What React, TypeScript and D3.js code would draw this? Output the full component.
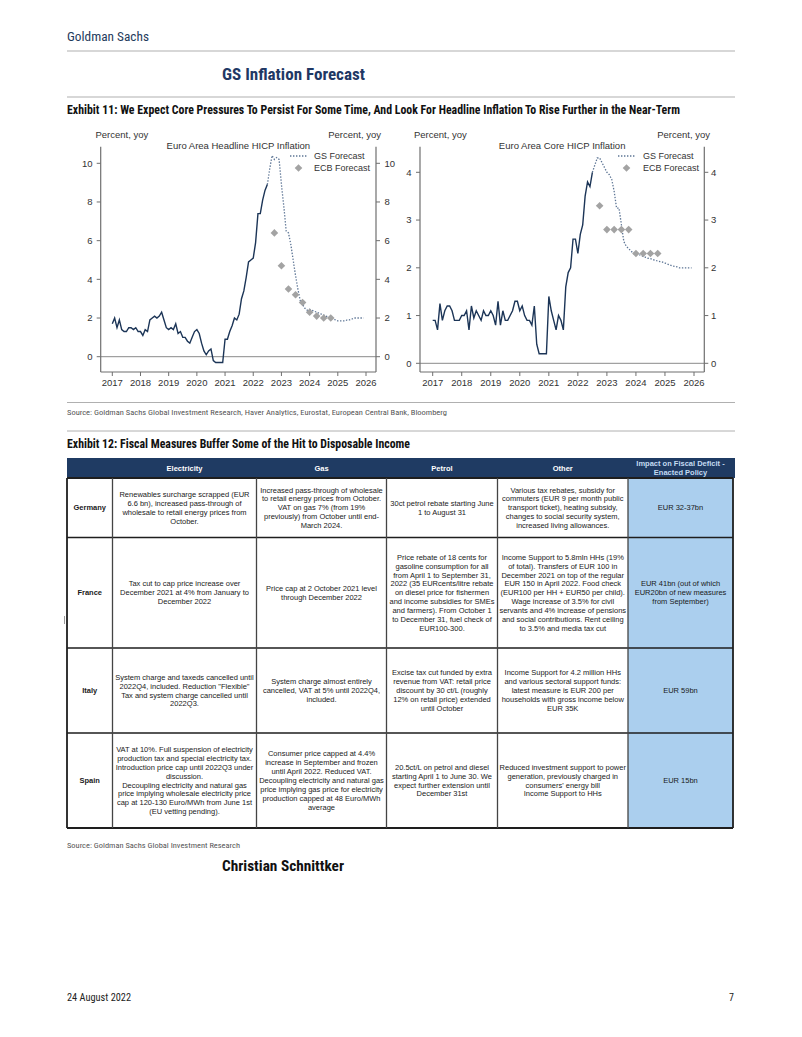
import React from 'react';
import * as d3 from 'd3';

// ---------- Chart data ----------
const yearTicks = [2017, 2018, 2019, 2020, 2021, 2022, 2023, 2024, 2025, 2026];
const headlineYTicks = [0, 2, 4, 6, 8, 10];
const coreYTicks = [0, 1, 2, 3, 4];

// Monthly, Jan 2017 - Jul 2022
const headlineActual = [
  1.7, 2.0, 1.5, 1.9, 1.4, 1.3, 1.3, 1.5, 1.5, 1.4, 1.5, 1.3,
  1.3, 1.1, 1.4, 1.3, 1.9, 2.0, 2.1, 2.0, 2.1, 2.3, 1.9, 1.5,
  1.4, 1.5, 1.4, 1.7, 1.2, 1.3, 1.0, 1.0, 0.8, 0.7, 1.0, 1.3,
  1.4, 1.2, 0.7, 0.3, 0.1, 0.3, 0.4, -0.2, -0.3, -0.3, -0.3, -0.3,
  0.9, 0.9, 1.3, 1.6, 2.0, 1.9, 2.2, 3.0, 3.4, 4.1, 4.9, 5.0,
  5.1, 5.9, 7.4, 7.4, 8.1, 8.6, 8.9,
];
// Monthly, Jul 2022 - Dec 2025
const headlineGS = [
  8.9, 9.7, 10.4, 10.2, 10.3, 10.2,
  8.9, 7.8, 6.5, 6.4, 5.8, 5.0, 4.2, 3.5, 2.9, 2.7, 2.5, 2.4,
  2.45, 2.4, 2.35, 2.3, 2.25, 2.2, 2.15, 2.1, 2.05, 2.0, 1.95, 1.9,
  1.85, 1.85, 1.85, 1.85, 1.9, 1.9, 1.95, 2.0, 2.0, 2.0, 2.0, 2.0,
];
// Quarterly, from 2022 Q4
const headlineECB = [6.4, 4.7, 3.5, 3.2, 2.8, 2.3, 2.1, 2.0, 2.0];

const coreActual = [
  0.9, 0.9, 0.7, 1.25, 0.9, 1.1, 1.2, 1.2, 1.1, 0.9, 0.9, 0.9,
  1.0, 1.0, 1.1, 0.7, 1.2, 0.95, 1.1, 1.0, 0.9, 1.1, 1.0, 1.0,
  1.1, 1.0, 0.8, 1.3, 0.8, 1.1, 0.9, 0.9, 1.0, 1.1, 1.3, 1.3,
  1.1, 1.2, 1.0, 0.9, 0.9, 0.8, 1.2, 0.4, 0.2, 0.2, 0.2, 0.2,
  1.4, 1.1, 0.9, 0.7, 1.0, 0.9, 0.7, 1.6, 1.9, 2.0, 2.6, 2.6,
  2.3, 2.7, 2.9, 3.5, 3.8, 3.7, 4.0,
];
const coreGS = [
  4.0, 4.15, 4.3, 4.3, 4.2, 4.1,
  4.0, 3.95, 3.85, 3.6, 3.25, 3.25, 2.9, 2.55, 2.45, 2.4, 2.35, 2.3,
  2.3, 2.28, 2.26, 2.24, 2.22, 2.2, 2.19, 2.17, 2.16, 2.14, 2.13, 2.12,
  2.1, 2.08, 2.06, 2.04, 2.03, 2.02, 2.0, 2.0, 2.0, 2.0, 2.0, 2.0,
];
const coreECB = [3.3, 2.8, 2.8, 2.8, 2.8, 2.3, 2.3, 2.3, 2.3];

const actualStart = 2017; // Jan 2017
const gsStart = 2022 + 6 / 12; // Jul 2022
const ecbStart = 2022.75;

// ---------- Table data ----------
const tableHeaders = ['', 'Electricity', 'Gas', 'Petrol', 'Other'];
const impactHeader = ['Impact on Fiscal Deficit -', 'Enacted Policy'];
const countries = ['Germany', 'France', 'Italy', 'Spain'];
const germanyCells = [
  ['Renewables surcharge scrapped (EUR', '6.6 bn), increased pass-through of', 'wholesale to retail energy prices from', 'October.'],
  ['Increased pass-through of wholesale', 'to retail energy prices from October.', 'VAT on gas 7% (from 19%', 'previously) from October until end-', 'March 2024.'],
  ['30ct petrol rebate starting June', '1 to August 31'],
  ['Various tax rebates, subsidy for', 'commuters (EUR 9 per month public', 'transport ticket), heating subsidy,', 'changes to social security system,', 'increased living allowances.'],
  ['EUR 32-37bn'],
];
const franceCells = [
  ['Tax cut to cap price increase over', 'December 2021 at 4% from January to', 'December 2022'],
  ['Price cap at 2 October 2021 level', 'through December 2022'],
  ['Price rebate of 18 cents for', 'gasoline consumption for all', 'from April 1 to September 31,', '2022 (35 EURcents/litre rebate', 'on diesel price for fishermen', 'and income subsidies for SMEs', 'and farmers). From October 1', 'to December 31, fuel check of', 'EUR100-300.'],
  ['Income Support to 5.8mln HHs (19%', 'of total). Transfers of EUR 100 in', 'December 2021 on top of the regular', 'EUR 150 in April 2022. Food check', '(EUR100 per HH + EUR50 per child).', 'Wage increase of 3.5% for civil', 'servants and 4% increase of pensions', 'and social contributions. Rent ceiling', 'to 3.5% and media tax cut'],
  ['EUR 41bn (out of which', 'EUR20bn of new measures', 'from September)'],
];
const italyCells = [
  ['System charge and taxeds cancelled until', '2022Q4, included. Reduction "Flexible"', 'Tax and system charge cancelled until', '2022Q3.'],
  ['System charge almost entirely', 'cancelled, VAT at 5% until 2022Q4,', 'included.'],
  ['Excise tax cut funded by extra', 'revenue from VAT: retail price', 'discount by 30 ct/L (roughly', '12% on retail price) extended', 'until October'],
  ['Income Support for 4.2 million HHs', 'and various sectoral support funds:', 'latest measure is EUR 200 per', 'households with gross income below', 'EUR 35K'],
  ['EUR 59bn'],
];
const spainCells = [
  ['VAT at 10%. Full suspension of electricity', 'production tax and special electricity tax.', 'Introduction price cap until 2022Q3 under', 'discussion.', 'Decoupling electricity and natural gas', 'price implying wholesale electricity price', 'cap at 120-130 Euro/MWh from June 1st', '(EU vetting pending).'],
  ['Consumer price capped at 4.4%', 'increase in September and frozen', 'until April 2022. Reduced VAT.', 'Decoupling electricity and natural gas', 'price implying gas price for electricity', 'production capped at 48 Euro/MWh', 'average'],
  ['20.5ct/L on petrol and diesel', 'starting April 1 to June 30. We', 'expect further extension until', 'December 31st'],
  ['Reduced investment support to power', 'generation, previously charged in', "consumers' energy bill", 'Income Support to HHs'],
  ['EUR 15bn'],
];
const tableRows = [germanyCells, franceCells, italyCells, spainCells];

// ---------- Styling constants ----------
const SANS = '"Liberation Sans", Arial, Helvetica, sans-serif';
const NARROW = '"Liberation Sans Narrow", "Arial Narrow", "Roboto Condensed", "DejaVu Sans Condensed", "Liberation Sans", Arial, sans-serif';
const NAVY = '#1f3b63';
const ACTUAL = '#1c3557';
const GSCOL = '#5d7595';
const ECBCOL = '#a3a3a3';
const AXIS = '#6f6f6f';
const TXT = '#333';
const DIAMOND = 'M0,-3.8L3.8,0L0,3.8L-3.8,0Z';

type ChartCfg = {
  left: number; right: number; top: number; bottom: number;
  x0: number; x1: number;
  y0px: number; yTopVal: number; yTopPx: number;
  yTicks: number[];
  title: string;
  actual: number[]; gs: number[]; ecb: number[];
  leftLabelX: number; rightLabelX: number;
  unitLeftX: number; unitRightX: number;
  legLineX: number; legTextX: number;
};

function Chart({ c }: { c: ChartCfg }) {
  const x = d3.scaleLinear().domain([2017, 2026]).range([c.x0, c.x1]);
  const y = d3.scaleLinear().domain([0, c.yTopVal]).range([c.y0px, c.yTopPx]);
  const line = d3.line<[number, number]>().x((d) => x(d[0])).y((d) => y(d[1]));
  const actualPts = c.actual.map((v, i) => [actualStart + i / 12, v] as [number, number]);
  const gsPts = c.gs.map((v, i) => [gsStart + i / 12, v] as [number, number]);
  const ecbPts = c.ecb.map((v, i) => [ecbStart + i * 0.25, v] as [number, number]);
  const cx = (c.left + c.right) / 2;
  return (
    <g fontFamily={SANS}>
      <line x1={c.left} x2={c.right} y1={y(0)} y2={y(0)} stroke="#8a8a8a" strokeWidth={1} />
      <line x1={c.left} x2={c.left} y1={c.top} y2={c.bottom} stroke={AXIS} strokeWidth={1.2} />
      <line x1={c.right} x2={c.right} y1={c.top} y2={c.bottom} stroke={AXIS} strokeWidth={1.2} />
      <line x1={c.left} x2={c.right} y1={c.bottom} y2={c.bottom} stroke={AXIS} strokeWidth={1.2} />
      {c.yTicks.map((t) => (
        <g key={'y' + t}>
          <line x1={c.left - 4} x2={c.left} y1={y(t)} y2={y(t)} stroke={AXIS} />
          <line x1={c.right} x2={c.right + 4} y1={y(t)} y2={y(t)} stroke={AXIS} />
          <text x={c.leftLabelX} y={y(t)} dy="0.35em" textAnchor="end" fontSize={9.5} fill={TXT}>{t}</text>
          <text x={c.rightLabelX} y={y(t)} dy="0.35em" textAnchor="start" fontSize={9.5} fill={TXT}>{t}</text>
        </g>
      ))}
      {yearTicks.map((t) => (
        <g key={'x' + t}>
          <line x1={x(t)} x2={x(t)} y1={c.bottom} y2={c.bottom + 4} stroke={AXIS} />
          <text x={x(t)} y={383} dy="0.35em" textAnchor="middle" fontSize={9.5} fill={TXT}>{t}</text>
        </g>
      ))}
      <text x={c.unitLeftX} y={135} dy="0.35em" fontSize={9.5} fill={TXT}>Percent, yoy</text>
      <text x={c.unitRightX} y={135} dy="0.35em" textAnchor="end" fontSize={9.5} fill={TXT}>Percent, yoy</text>
      <text x={cx} y={146} dy="0.35em" textAnchor="middle" fontSize={9.5} fill={TXT}>{c.title}</text>
      <path d={line(gsPts) || ''} fill="none" stroke={GSCOL} strokeWidth={1.3} strokeDasharray="1.4 1.6" />
      <path d={line(actualPts) || ''} fill="none" stroke={ACTUAL} strokeWidth={1.4} />
      {ecbPts.map((p, i) => (
        <path key={'e' + i} d={DIAMOND} transform={`translate(${x(p[0])},${y(p[1])})`} fill={ECBCOL} />
      ))}
      <line x1={c.legLineX} x2={c.legLineX + 17} y1={156} y2={156} stroke={GSCOL} strokeWidth={1.3} strokeDasharray="1.4 1.6" />
      <text x={c.legTextX} y={156} dy="0.35em" fontSize={9} fill={TXT}>GS Forecast</text>
      <path d={DIAMOND} transform={`translate(${c.legLineX + 8.5},168)`} fill={ECBCOL} />
      <text x={c.legTextX} y={168} dy="0.35em" fontSize={9} fill={TXT}>ECB Forecast</text>
    </g>
  );
}

const headlineCfg: ChartCfg = {
  left: 100.7, right: 376, top: 146.7, bottom: 372,
  x0: 112.3, x1: 366, y0px: 356.7, yTopVal: 10, yTopPx: 163.3,
  yTicks: headlineYTicks, title: 'Euro Area Headline HICP Inflation',
  actual: headlineActual, gs: headlineGS, ecb: headlineECB,
  leftLabelX: 92.5, rightLabelX: 384.5, unitLeftX: 95.5, unitRightX: 381,
  legLineX: 290, legTextX: 314,
};
const coreCfg: ChartCfg = {
  left: 420, right: 704.3, top: 146.7, bottom: 372,
  x0: 432.7, x1: 694, y0px: 363.3, yTopVal: 4, yTopPx: 172.3,
  yTicks: coreYTicks, title: 'Euro Area Core HICP Inflation',
  actual: coreActual, gs: coreGS, ecb: coreECB,
  leftLabelX: 411.5, rightLabelX: 711, unitLeftX: 414, unitRightX: 710,
  legLineX: 618, legTextX: 643,
};

const colX = [67, 112.5, 256.5, 386.5, 497.5, 628, 733];
const rowY = [458, 478, 537.5, 648, 733, 828];
const FS = 7.5;
const LH = 8.9;

function CellText({ lines, x0, x1, y0, y1, bold = false, fill = '#1a1a1a' }: { lines: string[]; x0: number; x1: number; y0: number; y1: number; bold?: boolean; fill?: string }) {
  const cx = (x0 + x1) / 2;
  const cy = (y0 + y1) / 2;
  const first = cy - ((lines.length - 1) * LH) / 2;
  return (
    <g>
      {lines.map((l, i) => (
        <text key={i} x={cx} y={first + i * LH} dy="0.35em" textAnchor="middle" fontSize={FS} fontWeight={bold ? 700 : 400} fill={fill} fontFamily={SANS}>{l}</text>
      ))}
    </g>
  );
}

function Table() {
  const top = rowY[0];
  const hb = rowY[1];
  const bottom = rowY[rowY.length - 1];
  return (
    <g>
      <rect x={colX[0]} y={top} width={colX[6] - colX[0] + 2} height={hb - top} fill={NAVY} />
      <rect x={colX[5]} y={hb} width={colX[6] - colX[5]} height={bottom - hb} fill="#abcfee" />
      {tableHeaders.map((h, i) => h ? (
        <CellText key={'h' + i} lines={[h]} x0={colX[i]} x1={colX[i + 1]} y0={top} y1={hb} bold fill="#ffffff" />
      ) : null)}
      <CellText lines={impactHeader} x0={colX[5]} x1={colX[6]} y0={top} y1={hb} bold fill="#c4dcf2" />
      {tableRows.map((cells, r) => (
        <g key={'r' + r}>
          <CellText lines={[countries[r]]} x0={colX[0]} x1={colX[1]} y0={rowY[r + 1]} y1={rowY[r + 2]} bold />
          {cells.map((lines, ci) => (
            <CellText key={ci} lines={lines} x0={colX[ci + 1]} x1={colX[ci + 2]} y0={rowY[r + 1]} y1={rowY[r + 2]} />
          ))}
        </g>
      ))}
      {rowY.slice(1).map((yy, i) => (
        <line key={'hl' + i} x1={colX[0]} x2={colX[6]} y1={yy} y2={yy} stroke="#1e1e1e" strokeWidth={i === 0 || i === rowY.length - 2 ? 2 : 1.5} />
      ))}
      {colX.map((xx, i) => (
        <line key={'vl' + i} x1={xx} x2={xx} y1={hb} y2={bottom} stroke={i === 0 || i === 6 ? '#1e1e1e' : '#444'} strokeWidth={i === 0 || i === 6 ? 1.8 : 1.3} />
      ))}
    </g>
  );
}

function HText({ x, y, size, w, bold = false, fill = '#111', children }: { x: number; y: number; size: number; w: number; bold?: boolean; fill?: string; children: string }) {
  return (
    <text x={x} y={y} fontSize={size} fontWeight={bold ? 700 : 400} fill={fill} fontFamily={NARROW} textLength={w} lengthAdjust="spacingAndGlyphs">{children}</text>
  );
}

export default function App() {
  return (
    <svg width={802} height={1037} viewBox="0 0 802 1037" style={{ position: 'absolute', left: 0, top: 0, background: '#fff' }}>
      <rect x={0} y={0} width={802} height={1037} fill="#fff" />
      <HText x={67} y={41} size={13} w={82} fill="#1f3b5c">Goldman Sachs</HText>
      <line x1={67} x2={735} y1={51} y2={51} stroke="#b0b0b0" strokeWidth={1.2} />
      <HText x={222} y={80} size={17} w={143} bold fill="#1f3864">GS Inflation Forecast</HText>
      <line x1={67} x2={735} y1={97} y2={97} stroke="#b0b0b0" strokeWidth={1.2} />
      <HText x={67} y={114} size={12} w={613} bold>Exhibit 11: We Expect Core Pressures To Persist For Some Time, And Look For Headline Inflation To Rise Further in the Near-Term</HText>

      <Chart c={headlineCfg} />
      <Chart c={coreCfg} />

      <line x1={67} x2={735} y1={402.5} y2={402.5} stroke="#b0b0b0" strokeWidth={1} />
      <HText x={67} y={415} size={8} w={380} fill="#555">Source: Goldman Sachs Global Investment Research, Haver Analytics, Eurostat, European Central Bank, Bloomberg</HText>
      <line x1={67} x2={735} y1={431} y2={431} stroke="#b0b0b0" strokeWidth={1} />
      <HText x={67} y={448} size={12} w={343} bold>Exhibit 12: Fiscal Measures Buffer Some of the Hit to Disposable Income</HText>

      <Table />

      <line x1={64.5} x2={64.5} y1={616} y2={624} stroke="#999" strokeWidth={1} />

      <HText x={67} y={848} size={8} w={173} fill="#555">Source: Goldman Sachs Global Investment Research</HText>
      <HText x={222} y={871} size={14} w={122} bold>Christian Schnittker</HText>
      <HText x={67} y={1001} size={10} w={64} fill="#222">24 August 2022</HText>
      <text x={729} y={1001} fontSize={10} fill="#222" fontFamily={NARROW}>7</text>
    </svg>
  );
}
